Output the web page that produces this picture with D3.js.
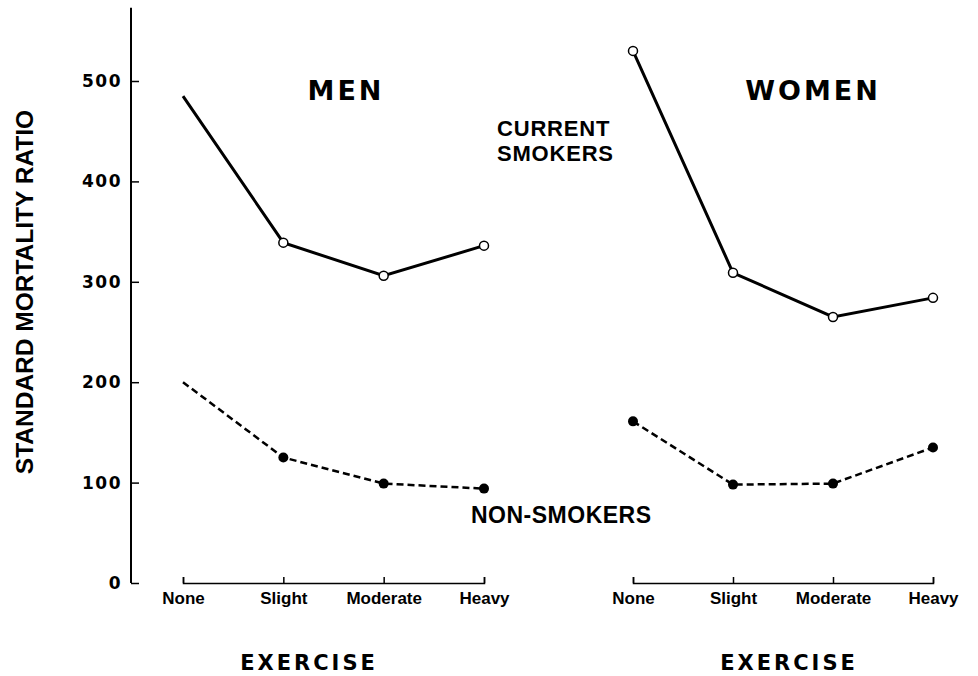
<!DOCTYPE html>
<html lang="en">
<head>
	<meta charset="utf-8">
	<title>Mortality ratio by exercise</title>
	<script src="https://d3js.org/d3.v7.js"></script>
	<style>
		body { margin: 0; background: #fff; }
		svg text { fill: #000; }
	</style>
</head>
<body>
	<div id="chart"></div>
	<script>
		// exercise levels on each x axis
		const levels = ["None", "Slight", "Moderate", "Heavy"];
		const yTicks = [0, 100, 200, 300, 400, 500];

		// standard mortality ratio
		const menSmokers = [485, 339, 306, 336];
		const menNonSmokers = [200, 125, 99, 94];
		const womenSmokers = [530, 309, 265, 284];
		const womenNonSmokers = [161, 98, 99, 135];

		const width = 978, height = 676;

		const svg = d3.select("#chart")
			.append("svg")
			.attr("width", width)
			.attr("height", height);

		const y = d3.scaleLinear().domain([0, 500]).range([583, 81]);

		// y axis, ticks point inwards
		const yAxis = svg.append("g")
			.attr("transform", "translate(131,0)")
			.call(d3.axisLeft(y).tickValues(yTicks).tickSize(-8).tickPadding(9));
		yAxis.select(".domain").remove();
		yAxis.selectAll("line").attr("stroke", "#000").attr("stroke-width", 1.5);
		yAxis.selectAll("text")
			.style("font-family", "'DejaVu Sans'")
			.style("font-weight", "bold")
			.style("font-size", "17px")
			.style("letter-spacing", "1.5px");
		yAxis.append("line")
			.attr("x1", 0).attr("x2", 0)
			.attr("y1", y(0)).attr("y2", y(573))
			.attr("stroke", "#000").attr("stroke-width", 2);

		svg.append("text")
			.attr("transform", "translate(33,292) rotate(-90)")
			.attr("text-anchor", "middle")
			.style("font-family", "'Liberation Sans'")
			.style("font-weight", "bold")
			.style("font-size", "24.5px")
			.text("STANDARD MORTALITY RATIO");

		const panels = [
			{ title: "MEN", range: [183, 484], titleX: 346, labelX: 309, smokers: menSmokers, non: menNonSmokers, firstMark: false },
			{ title: "WOMEN", range: [633, 933], titleX: 813, labelX: 789, smokers: womenSmokers, non: womenNonSmokers, firstMark: true }
		];

		panels.forEach(function (p) {
			const x = d3.scalePoint().domain(levels).range(p.range);

			const xAxis = svg.append("g")
				.attr("transform", "translate(0,583)")
				.call(d3.axisBottom(x).tickSize(-6).tickSizeOuter(-6).tickPadding(9));
			xAxis.select(".domain").attr("stroke", "#000").attr("stroke-width", 1.5);
			xAxis.selectAll("line").attr("stroke", "#000").attr("stroke-width", 1.5);
			xAxis.selectAll("text")
				.style("font-family", "'Liberation Sans'")
				.style("font-weight", "bold")
				.style("font-size", "17px");

			svg.append("text")
				.attr("x", p.labelX).attr("y", 670)
				.attr("text-anchor", "middle")
				.style("font-family", "'DejaVu Sans'")
				.style("font-weight", "bold")
				.style("font-size", "21px")
				.style("letter-spacing", "3px")
				.text("EXERCISE");

			svg.append("text")
				.attr("x", p.titleX).attr("y", 100)
				.attr("text-anchor", "middle")
				.style("font-family", "'DejaVu Sans'")
				.style("font-weight", "bold")
				.style("font-size", "27px")
				.style("letter-spacing", "3px")
				.text(p.title);

			const line = d3.line()
				.x(function (d, i) { return x(levels[i]); })
				.y(function (d) { return y(d); });

			svg.append("path")
				.datum(p.smokers)
				.attr("d", line)
				.attr("fill", "none")
				.attr("stroke", "#000")
				.attr("stroke-width", 3);

			svg.append("path")
				.datum(p.non)
				.attr("d", line)
				.attr("fill", "none")
				.attr("stroke", "#000")
				.attr("stroke-width", 2.5)
				.attr("stroke-dasharray", "7,4");

			const start = p.firstMark ? 0 : 1;

			svg.selectAll(null)
				.data(p.smokers.slice(start))
				.join("circle")
				.attr("cx", function (d, i) { return x(levels[i + start]); })
				.attr("cy", function (d) { return y(d); })
				.attr("r", 4.5)
				.attr("fill", "#fff")
				.attr("stroke", "#000")
				.attr("stroke-width", 1.5);

			svg.selectAll(null)
				.data(p.non.slice(start))
				.join("circle")
				.attr("cx", function (d, i) { return x(levels[i + start]); })
				.attr("cy", function (d) { return y(d); })
				.attr("r", 5)
				.attr("fill", "#000");
		});

		// series labels
		svg.append("text")
			.attr("x", 497).attr("y", 136)
			.style("font-family", "'Liberation Sans'")
			.style("font-weight", "bold")
			.style("font-size", "22px")
			.style("letter-spacing", "0.8px")
			.selectAll("tspan")
			.data(["CURRENT", "SMOKERS"])
			.join("tspan")
			.attr("x", 497)
			.attr("dy", function (d, i) { return i ? 25 : 0; })
			.text(function (d) { return d; });

		svg.append("text")
			.attr("x", 471).attr("y", 523)
			.style("font-family", "'Liberation Sans'")
			.style("font-weight", "bold")
			.style("font-size", "23px")
			.style("letter-spacing", "0.5px")
			.text("NON-SMOKERS");
	</script>
</body>
</html>
